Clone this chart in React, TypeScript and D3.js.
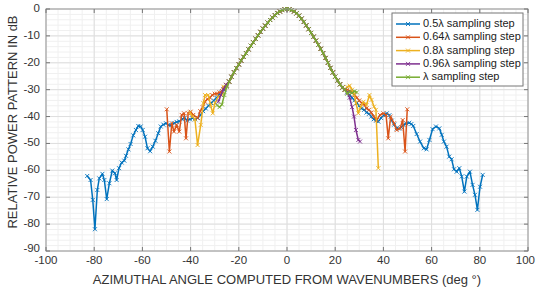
import * as d3 from 'd3';

// main lobe shared by all sampling steps (deg, dB)
const MAIN_ANG = [-24, -23, -22, -21, -20, -19, -18, -17, -16, -15, -14, -13, -12, -11, -10, -9, -8, -7, -6, -5, -4, -3, -2, -1, 0,
  1, 2, 3, 4, 5, 6, 7, 8, 9, 10, 11, 12, 13, 14, 15, 16, 17, 18, 19, 20, 21, 22, 23, 24];
const MAIN_DB = [-27, -25.2, -23.5, -22, -20.6, -19.2, -17.8, -16.4, -15, -13.7, -12.4, -11.1, -9.8, -8.5, -7.3, -6.2, -5.1, -4.1, -3.2, -2.3, -1.5, -0.9, -0.4, -0.1, 0,
  -0.1, -0.4, -0.9, -1.6, -2.5, -3.6, -4.8, -6.1, -7.5, -8.9, -10.3, -11.8, -13.3, -14.8, -16.4, -18.2, -20, -21.9, -23.6, -25.2, -26.6, -28, -29.2, -30];

// 0.5 lambda
const BLUE_L_ANG = [-82.9, -81.5, -80.6, -79.7, -78.7, -77.9, -76.6, -75.8, -74.8, -73.7, -72.5, -71.4, -70.7, -69.7, -68.6, -67.5, -66.8, -65.8, -64.9, -63.8, -62.7, -61.7, -60.7, -59.9, -58.9, -57.9, -56.8, -55.7, -54.6, -53.4, -52.4, -51.3, -50.2, -49.1, -48, -46.9, -45.8, -44.7, -43.6, -42.5, -41.4, -40.3, -39.2, -38.1, -37, -35.9, -34.8, -33.7, -32.6, -31.5, -30.4, -29.3, -28.2, -27.1, -26, -25];
const BLUE_L_DB = [-62.1, -63.6, -71, -81.9, -67.3, -63, -61.3, -63.6, -70.7, -64.8, -60.1, -61.1, -63.6, -59.2, -57.1, -56.4, -54.6, -52.2, -50.2, -47, -45, -43.5, -43.7, -45, -47.5, -51.8, -52.9, -51.2, -49, -46.2, -43.7, -43, -42.5, -43.2, -43.2, -42.5, -42, -41.8, -41, -40.5, -41.5, -41, -40.6, -41, -40.5, -39.5, -38, -37, -36, -35, -34, -33, -32, -31, -30, -28.5];
const BLUE_R_ANG = [25, 26, 27, 28, 29, 30, 31, 32, 33, 34, 35, 36, 37, 37.9, 39, 40.2, 41.4, 42.5, 43.5, 44.5, 45.5, 46.5, 47.4, 48.3, 49.5, 50.7, 51.6, 52.4, 53.8, 55.2, 56.8, 57.9, 59.1, 60.4, 61.8, 63.2, 64.2, 65.1, 66.2, 67.3, 68.3, 69.3, 70.4, 71.5, 72.5, 73.6, 74.6, 75.9, 77, 78, 79, 80.1, 81.2];
const BLUE_R_DB = [-31, -32, -33, -34, -35, -36, -37, -37.5, -38.5, -39, -40, -41, -41.5, -41.9, -40.5, -39.5, -38.8, -39.5, -41.5, -43, -44.4, -44.5, -44, -43.1, -42.6, -42.3, -42.8, -43.5, -46.5, -49.3, -51.8, -52.2, -48.7, -44.7, -43.7, -44.4, -46.8, -49.3, -51.2, -54.9, -55.9, -59.6, -60.5, -59.2, -62.3, -67.9, -62.3, -60.5, -65.4, -69.1, -74.7, -66.1, -61.7];

// 0.64 lambda
const ORANGE_L_ANG = [-49.9, -48.8, -47.8, -46.9, -45.8, -44.7, -43.7, -42.7, -41.9, -41, -40, -38.9, -37.1, -36, -35, -34, -33, -32, -31, -30, -29, -28, -27, -26, -25];
const ORANGE_L_DB = [-37.3, -53, -42.5, -45.6, -43.1, -45.6, -39.4, -38.8, -48.1, -38.8, -38.2, -39.4, -40.6, -38, -36.5, -34.5, -33.5, -33, -32, -31.5, -31.5, -31, -30.5, -29.5, -28.5];
const ORANGE_R_ANG = [25, 26, 27, 28, 29, 30, 31, 32, 33, 34, 35, 36, 37.2, 38.6, 40, 41.1, 42, 43, 44.4, 45.5, 46.9, 48, 49, 49.9];
const ORANGE_R_DB = [-30, -30.5, -31, -32, -33, -34, -35, -35.5, -37, -37.5, -38.5, -40, -41.3, -39.4, -38.8, -39.4, -48.1, -40, -42.5, -45, -44.4, -41.3, -53, -37.3];

// 0.8 lambda
const YELLOW_L_ANG = [-40.3, -39.2, -38.2, -37.1, -35.8, -34.7, -34, -32.7, -31.7, -30.8, -29.9, -28.5, -27.1, -26.4, -25.3];
const YELLOW_L_DB = [-38.5, -40, -41, -50.6, -43.1, -35, -32, -32, -35.7, -38.8, -35, -32.6, -32, -28.9, -28.2];
const YELLOW_R_ANG = [25, 26, 27, 27.8, 28.6, 29.6, 30.6, 31.7, 33, 34.2, 35.1, 36.1, 36.9, 37.9];
const YELLOW_R_DB = [-29, -28.5, -30, -31.5, -35, -38.8, -36.3, -34.5, -35.7, -32, -33.8, -36.3, -37.5, -59.2];

// 0.96 lambda
const PURPLE_L_ANG = [-28.5, -27.4, -26.4, -25.3];
const PURPLE_L_DB = [-34.5, -32, -29.8, -28.2];
const PURPLE_R_ANG = [25, 26, 27, 27.8, 28.6, 29.6, 30.3];
const PURPLE_R_DB = [-31, -33, -36.5, -40, -45, -48.7, -49.3];

// lambda
const GREEN_L_ANG = [-29, -28, -27, -26, -25];
const GREEN_L_DB = [-35.8, -36.5, -35.5, -32, -29];
const GREEN_R_ANG = [25, 26, 27, 28, 29];
const GREEN_R_DB = [-31.5, -30.8, -31.2, -30.6, -31];

const X_TICKS = [-100, -80, -60, -40, -20, 0, 20, 40, 60, 80, 100];
const Y_TICKS = [0, -10, -20, -30, -40, -50, -60, -70, -80, -90];

const LABELS = ['0.5λ sampling step', '0.64λ sampling step', '0.8λ sampling step', '0.96λ sampling step', 'λ sampling step'];
const COLORS = ['#0072BD', '#D95319', '#EDB120', '#7E2F8E', '#77AC30'];

type Pt = { x: number; y: number };

function join(la: number[], ld: number[], ra: number[], rd: number[]): Pt[] {
  const ang = [...la, ...MAIN_ANG, ...ra];
  const db = [...ld, ...MAIN_DB, ...rd];
  return ang.map((a, i) => ({ x: a, y: db[i] }));
}

const SERIES: Pt[][] = [
  join(BLUE_L_ANG, BLUE_L_DB, BLUE_R_ANG, BLUE_R_DB),
  join(ORANGE_L_ANG, ORANGE_L_DB, ORANGE_R_ANG, ORANGE_R_DB),
  join(YELLOW_L_ANG, YELLOW_L_DB, YELLOW_R_ANG, YELLOW_R_DB),
  join(PURPLE_L_ANG, PURPLE_L_DB, PURPLE_R_ANG, PURPLE_R_DB),
  join(GREEN_L_ANG, GREEN_L_DB, GREEN_R_ANG, GREEN_R_DB),
];

const FONT = '"Liberation Sans", Arial, sans-serif';

function Marker({ cx, cy, color }: { cx: number; cy: number; color: string }) {
  const s = 2;
  return (
    <path
      d={`M${cx - s},${cy - s}L${cx + s},${cy + s}M${cx - s},${cy + s}L${cx + s},${cy - s}`}
      stroke={color}
      strokeWidth={0.9}
    />
  );
}

export default function App() {
  const width = 536;
  const height = 290;
  const left = 46, right = 528, top = 9, bottom = 251;

  const x = d3.scaleLinear().domain([-100, 100]).range([left, right]);
  const y = d3.scaleLinear().domain([-90, 0]).range([bottom, top]);

  const line = d3
    .line<Pt>()
    .x((d) => x(d.x))
    .y((d) => y(d.y));

  const xMinor = d3.range(-100, 101, 5);
  const yMinor = d3.range(-90, 1, 2);

  const legX = 392, legY = 13, legW = 131, legH = 73;

  return (
    <svg
      width={width}
      height={height}
      style={{ position: 'absolute', left: 0, top: 0, background: '#fff' }}
      fontFamily={FONT}
    >
      {/* minor grid */}
      {xMinor.map((v) => (
        <line key={'xm' + v} x1={x(v)} x2={x(v)} y1={top} y2={bottom} stroke="#f0f0f0" strokeWidth={1} />
      ))}
      {yMinor.map((v) => (
        <line key={'ym' + v} x1={left} x2={right} y1={y(v)} y2={y(v)} stroke="#f0f0f0" strokeWidth={1} />
      ))}
      {/* major grid */}
      {X_TICKS.map((v) => (
        <line key={'xg' + v} x1={x(v)} x2={x(v)} y1={top} y2={bottom} stroke="#dedede" strokeWidth={1} />
      ))}
      {Y_TICKS.map((v) => (
        <line key={'yg' + v} x1={left} x2={right} y1={y(v)} y2={y(v)} stroke="#dedede" strokeWidth={1} />
      ))}

      {/* series */}
      {SERIES.map((s, i) => (
        <g key={'s' + i}>
          <path d={line(s) ?? ''} fill="none" stroke={COLORS[i]} strokeWidth={1.5} strokeLinejoin="round" />
          {s.map((p, j) => (
            <Marker key={j} cx={x(p.x)} cy={y(p.y)} color={COLORS[i]} />
          ))}
        </g>
      ))}

      {/* axes box */}
      <rect x={left} y={top} width={right - left} height={bottom - top} fill="none" stroke="#9a9a9a" strokeWidth={1} />
      {X_TICKS.map((v) => {
        const last = v === 100;
        return (
          <g key={'xt' + v}>
            <line x1={x(v)} x2={x(v)} y1={bottom} y2={bottom - 4} stroke="#777" />
            <line x1={x(v)} x2={x(v)} y1={top} y2={top + 4} stroke="#777" />
            <text
              x={last ? width - 1 : x(v)}
              y={261}
              textAnchor={last ? 'end' : 'middle'}
              dominantBaseline="middle"
              fontSize={11.5}
              fill="#333"
            >
              {v}
            </text>
          </g>
        );
      })}
      {Y_TICKS.map((v) => (
        <g key={'yt' + v}>
          <line x1={left} x2={left + 4} y1={y(v)} y2={y(v)} stroke="#777" />
          <line x1={right} x2={right - 4} y1={y(v)} y2={y(v)} stroke="#777" />
          <text x={left - 6} y={v === -90 ? y(v) - 2 : y(v)} textAnchor="end" dominantBaseline="middle" fontSize={11.5} fill="#333">
            {v}
          </text>
        </g>
      ))}

      {/* axis labels */}
      <text x={287} y={281} textAnchor="middle" dominantBaseline="middle" fontSize={13} fill="#333">
        AZIMUTHAL ANGLE COMPUTED FROM WAVENUMBERS (deg °)
      </text>
      <text
        transform={`translate(14,${122}) rotate(-90)`}
        textAnchor="middle"
        dominantBaseline="middle"
        fontSize={13}
        fill="#333"
      >
        RELATIVE POWER PATTERN IN dB
      </text>

      {/* legend */}
      <rect x={legX} y={legY} width={legW} height={legH} fill="#fff" stroke="#777" strokeWidth={1} />
      {LABELS.map((lab, i) => {
        const ly = legY + 11 + i * 13.3;
        return (
          <g key={'l' + i}>
            <line x1={legX + 4} x2={legX + 28} y1={ly} y2={ly} stroke={COLORS[i]} strokeWidth={1.5} />
            <Marker cx={legX + 16} cy={ly} color={COLORS[i]} />
            <text x={legX + 31} y={ly} dominantBaseline="middle" fontSize={11} fill="#222">
              {lab}
            </text>
          </g>
        );
      })}
    </svg>
  );
}
